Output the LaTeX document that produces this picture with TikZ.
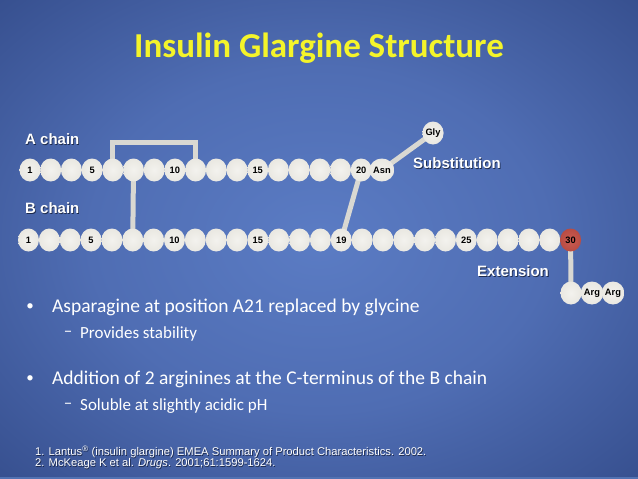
\documentclass[tikz,border=0pt]{standalone}
\usepackage{fontspec}
\setmainfont{Liberation Sans}
\newfontfamily\calib{Carlito}
\usetikzlibrary{shapes.geometric}
\pgfdeclarelayer{background}
\pgfsetlayers{background,main}
\definecolor{bgA}{HTML}{5B7CC4}
\definecolor{bgB}{HTML}{4F6DB3}
\definecolor{bgC}{HTML}{2E4582}
\definecolor{bgD}{HTML}{141F48}
\definecolor{beadA}{HTML}{F3F2EE}
\definecolor{beadB}{HTML}{E6E4DD}
\definecolor{beadC}{HTML}{CFCDC5}
\definecolor{redA}{HTML}{CA5C52}
\definecolor{redB}{HTML}{B2463E}
\definecolor{redC}{HTML}{8E342E}
\definecolor{linkc}{HTML}{D9D8D2}
\definecolor{titlec}{HTML}{F4F42A}
\definecolor{shadc}{HTML}{111A33}
\definecolor{stripc}{HTML}{5272B2}
\pgfdeclareradialshading{slidebg}{\pgfpoint{0bp}{0bp}}{color(0bp)=(bgA); color(18bp)=(bgB); color(42bp)=(bgC); color(71bp)=(bgD)}
\pgfdeclareradialshading{beadsh}{\pgfpoint{0bp}{0bp}}{color(0bp)=(beadA); color(34bp)=(beadB); color(50bp)=(beadC); color(72bp)=(beadC)}
\pgfdeclareradialshading{redsh}{\pgfpoint{0bp}{0bp}}{color(0bp)=(redA); color(34bp)=(redB); color(50bp)=(redC); color(72bp)=(redC)}
\newcommand\myalab[1]{\ifcase#1\or 1\or\or\or 5\or\or\or\or 10\or\or\or\or 15\or\or\or\or\or 20\or Asn\fi}
\newcommand\myblab[1]{\ifcase#1\or 1\or\or\or 5\or\or\or\or 10\or\or\or\or 15\or\or\or\or 19\or\or\or\or\or\or 25\or\or\or\or\or 30\fi}
\begin{document}
\begin{tikzpicture}[x=1pt,y=-1pt,
  bead/.style={ellipse, minimum width=21pt, minimum height=23pt, inner sep=0pt, shade, shading=beadsh, text=black, font=\bfseries\fontsize{9.3}{9.3}\selectfont},
  redbead/.style={bead, shading=redsh},
  link/.style={draw=linkc, line width=5pt},
  lbl/.style={anchor=west, inner sep=0pt, text=white, font=\bfseries\fontsize{15}{15}\selectfont},
  lblsh/.style={lbl, text=shadc, opacity=0.8},
  titlestyle/.style={inner sep=0pt, text=titlec, font=\calib\bfseries\fontsize{35}{35}\selectfont},
  bul/.style={anchor=west, inner sep=0pt, text=white, font=\calib\fontsize{19.5}{19.5}\selectfont},
  dot/.style={inner sep=0pt, text=white, font=\calib\fontsize{15}{15}\selectfont},
  subbul/.style={anchor=west, inner sep=0pt, text=white, font=\calib\fontsize{17}{17}\selectfont},
  ref/.style={anchor=west, inner sep=0pt, text=white, font=\fontsize{11.2}{11.2}\selectfont},
  refsh/.style={ref, text=shadc, opacity=0.8}]
\useasboundingbox (0,0) rectangle (638,479);
\begin{pgfonlayer}{background}
  \shade[shading=slidebg] (0,0) rectangle (638,479);
  \fill[stripc] (0,476.5) rectangle (638,479);
\end{pgfonlayer}
% title
\node[titlestyle] (title) at (319,48) {Insulin Glargine Structure};
% A chain
\foreach \i in {1,...,18} {
  \node[bead] (A\i) at ({30+20.7*(\i-1)},170) {\myalab{\i}};
}
% B chain
\foreach \i in {1,...,26} {
  \node[bead] (B\i) at ({28.5+20.85*(\i-1)},240) {\myblab{\i}};
}
\node[redbead] (B27) at ({28.5+20.85*26},240) {30};
% substitution and extension beads
\node[bead] (gly) at (433,133) {Gly};
\node[bead] (ext) at (571,293) {};
\node[bead] (arg1) at (592,293) {Arg};
\node[bead] (arg2) at (613,293) {Arg};
\coordinate (brk) at (0,142);
\begin{pgfonlayer}{background}
  \draw[link] (A5.center) -- (A5.center |- brk) -| (A9.center);
  \draw[link] (A6.center) -- (B6.center);
  \draw[link] (A17.center) -- (B16.center);
  \draw[link] (A18.center) -- (gly.center);
  \draw[link] (B27.center) -- (ext.center);
\end{pgfonlayer}
% labels with shadow
\node[lblsh] (achs) at (25.8,139.8) {A chain};
\node[lbl] (ach) at (25,139) {A chain};
\node[lblsh] (bchs) at (25.8,208.8) {B chain};
\node[lbl] (bch) at (25,208) {B chain};
\node[lblsh] (subs) at (413.8,163.8) {Substitution};
\node[lbl] (sub) at (413,163) {Substitution};
\node[lblsh] (exts) at (477.8,271.8) {Extension};
\node[lbl] (extl) at (477,271) {Extension};
% bullets
\node[dot] (d1) at (30,307) {•};
\node[bul] (b1) at (52,307) {Asparagine at position A21 replaced by glycine};
\node[subbul, anchor=center] (s1d) at (68,334) {–};
\node[subbul] (s1) at (80,334) {Provides stability};
\node[dot] (d2) at (30,379) {•};
\node[bul] (b2) at (52,379) {Addition of 2 arginines at the C-terminus of the B chain};
\node[subbul, anchor=center] (s2d) at (68,406) {–};
\node[subbul] (s2) at (80,406) {Soluble at slightly acidic pH};
% references
\node[refsh] (r1s) at (35.7,452.7) {1. Lantus\textsuperscript{®} (insulin glargine) EMEA Summary of Product Characteristics. 2002.};
\node[ref] (r1) at (35,452) {1. Lantus\textsuperscript{®} (insulin glargine) EMEA Summary of Product Characteristics. 2002.};
\node[refsh] (r2s) at (35.7,464.7) {2. McKeage K et al. \textit{Drugs}. 2001;61:1599-1624.};
\node[ref] (r2) at (35,464) {2. McKeage K et al. \textit{Drugs}. 2001;61:1599-1624.};
\end{tikzpicture}
\end{document}
